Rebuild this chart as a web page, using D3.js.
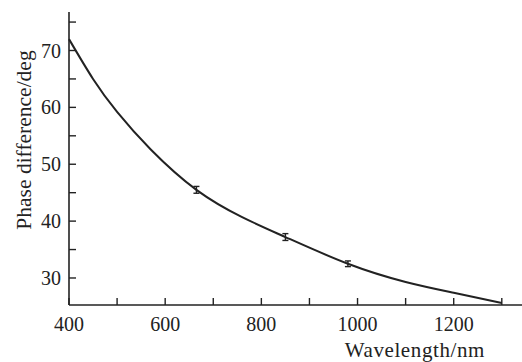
<!DOCTYPE html>
<html><head><meta charset="utf-8">
<script src="https://cdn.jsdelivr.net/npm/d3@7"></script>
<style>
html, body, svg, svg text, text, tspan { font-family: 'Liberation Serif', 'Times New Roman', serif !important; }
</style>
</head><body style="margin:0;background:#fff"><svg id="c" width="522" height="362" style="display:block"></svg>
<script>
const curveLambda = [400, 450, 500, 570, 665, 760, 850, 980, 1100, 1200, 1300];
const curvePhase  = [72.0, 65.0, 59.2, 52.6, 45.5, 40.7, 37.2, 32.5, 29.3, 27.4, 25.6];
const measLambda = [665, 850, 980];
const measPhase  = [45.5, 37.2, 32.5];
const measErr    = [0.6, 0.6, 0.5];
const xTicks = [400, 500, 600, 700, 800, 900, 1000, 1100, 1200, 1300];
const xLabels = [400, 600, 800, 1000, 1200];
const yTicks = [30, 35, 40, 45, 50, 55, 60, 65, 70, 75];
const yLabels = [30, 40, 50, 60, 70];

const FONT = "'Liberation Serif', 'Times New Roman', serif";
const svg = d3.select("#c");
const x = d3.scaleLinear().domain([400, 1342]).range([69, 522]);
const y = d3.scaleLinear().domain([25.25, 76.77]).range([305, 12]);
const ink = "#222";

svg.append("line").attr("x1", x(400)).attr("x2", 522).attr("y1", y(25.25)).attr("y2", y(25.25)).attr("stroke", ink).attr("stroke-width", 1.6);
svg.append("line").attr("x1", x(400)).attr("x2", x(400)).attr("y1", y(25.25)).attr("y2", y(76.77)).attr("stroke", ink).attr("stroke-width", 1.6);

svg.selectAll(".xt").data(xTicks).enter().append("line")
  .attr("x1", d => x(d)).attr("x2", d => x(d)).attr("y1", y(25.25)).attr("y2", y(25.25) - 7)
  .attr("stroke", ink).attr("stroke-width", 1.4);
svg.selectAll(".xl").data(xLabels).enter().append("text")
  .style("font-family", FONT, "important").attr("fill", ink)
  .attr("x", d => x(d)).attr("y", 331).attr("text-anchor", "middle").attr("font-size", 20).text(d => d);

svg.selectAll(".yt").data(yTicks).enter().append("line")
  .attr("x1", x(400)).attr("x2", x(400) + 7).attr("y1", d => y(d)).attr("y2", d => y(d))
  .attr("stroke", ink).attr("stroke-width", 1.4);
svg.selectAll(".yl").data(yLabels).enter().append("text")
  .style("font-family", FONT, "important").attr("fill", ink)
  .attr("x", 61).attr("y", d => y(d)).attr("dy", "0.35em").attr("text-anchor", "end").attr("font-size", 20).text(d => d);

svg.append("text").style("font-family", FONT, "important").attr("fill", ink)
  .attr("x", 485).attr("y", 357).attr("text-anchor", "end").attr("font-size", 21).attr("letter-spacing", 0.6).text("Wavelength/nm");
svg.append("text").style("font-family", FONT, "important").attr("fill", ink)
  .attr("transform", "translate(31,140) rotate(-90)").attr("text-anchor", "middle").attr("font-size", 21.5).text("Phase difference/deg");

const pts = curveLambda.map((l, i) => [l, curvePhase[i]]);
svg.append("path").datum(pts)
  .attr("d", d3.line().x(d => x(d[0])).y(d => y(d[1])).curve(d3.curveNatural))
  .attr("fill", "none").attr("stroke", ink).attr("stroke-width", 2);

const eb = svg.selectAll(".eb").data(measLambda.map((l, i) => ({l, v: measPhase[i], e: measErr[i]}))).enter().append("g");
eb.append("line").attr("x1", d => x(d.l)).attr("x2", d => x(d.l)).attr("y1", d => y(d.v - d.e)).attr("y2", d => y(d.v + d.e)).attr("stroke", ink).attr("stroke-width", 1.4);
eb.append("line").attr("x1", d => x(d.l) - 3).attr("x2", d => x(d.l) + 3).attr("y1", d => y(d.v - d.e)).attr("y2", d => y(d.v - d.e)).attr("stroke", ink).attr("stroke-width", 1.4);
eb.append("line").attr("x1", d => x(d.l) - 3).attr("x2", d => x(d.l) + 3).attr("y1", d => y(d.v + d.e)).attr("y2", d => y(d.v + d.e)).attr("stroke", ink).attr("stroke-width", 1.4);
</script></body></html>
